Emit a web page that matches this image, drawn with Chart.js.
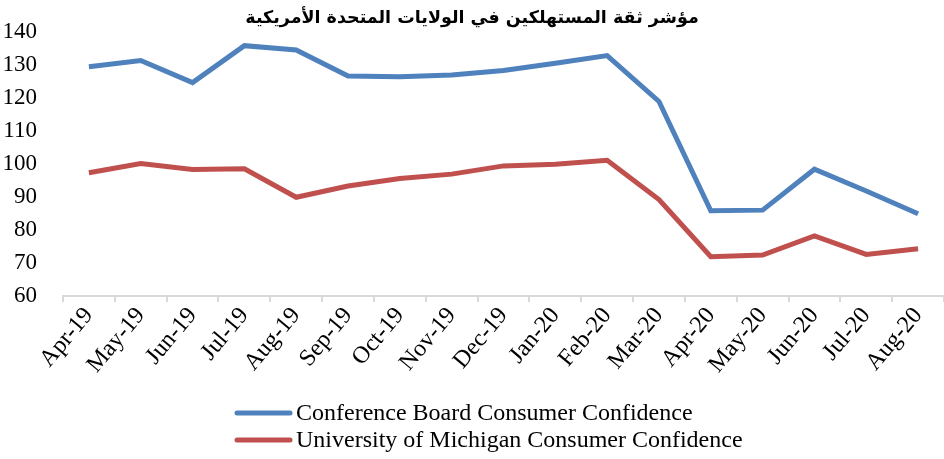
<!DOCTYPE html>
<html>
<head>
<meta charset="utf-8">
<script src="https://cdn.jsdelivr.net/npm/chart.js@4/dist/chart.umd.min.js"></script>
<style>
html, body { margin: 0; padding: 0; background: #fff; }
#wrap { width: 944px; height: 459px; position: relative; }
</style>
</head>
<body>
<div id="wrap"><canvas id="chart"></canvas></div>
<script>
// chart data
const chartTitle = 'مؤشر ثقة المستهلكين في الولايات المتحدة الأمريكية';
const months = ['Apr-19', 'May-19', 'Jun-19', 'Jul-19', 'Aug-19', 'Sep-19', 'Oct-19', 'Nov-19', 'Dec-19',
    'Jan-20', 'Feb-20', 'Mar-20', 'Apr-20', 'May-20', 'Jun-20', 'Jul-20', 'Aug-20'];
const conferenceBoard = [129.4, 131.3, 124.6, 135.8, 134.5, 126.6, 126.4, 126.9, 128.3, 130.5, 132.8, 118.9, 85.8, 86.0, 98.4, 91.8, 84.9];
const michigan = [97.3, 100.1, 98.3, 98.5, 89.9, 93.3, 95.6, 96.9, 99.4, 99.9, 101.1, 89.2, 71.9, 72.4, 78.2, 72.6, 74.3];
const seriesNames = ['Conference Board Consumer Confidence', 'University of Michigan Consumer Confidence'];
const seriesColors = ['#4f81bd', '#c0504d'];

const serif = '"Liberation Serif", "Times New Roman", serif';

// legend drawn as two left-aligned rows under the axis labels
const bottomLegend = {
    id: 'bottomLegend',
    afterDraw(chart) {
        const ctx = chart.ctx;
        const x0 = 237;
        const top = chart.height - 46;
        ctx.save();
        ctx.font = '24px ' + serif;
        ctx.textBaseline = 'middle';
        ctx.textAlign = 'left';
        chart.data.datasets.forEach((ds, i) => {
            const y = top + i * 27;
            ctx.strokeStyle = ds.borderColor;
            ctx.lineWidth = 5;
            ctx.lineCap = 'round';
            ctx.beginPath();
            ctx.moveTo(x0, y);
            ctx.lineTo(x0 + 53, y);
            ctx.stroke();
            ctx.fillStyle = '#000';
            ctx.fillText(ds.label, x0 + 59, y + 1);
        });
        ctx.restore();
    }
};

new Chart(document.getElementById('chart'), {
    type: 'line',
    data: {
        labels: months,
        datasets: [conferenceBoard, michigan].map((values, i) => ({
            label: seriesNames[i],
            data: values,
            borderColor: seriesColors[i],
            backgroundColor: seriesColors[i],
            borderWidth: 5,
            pointRadius: 0,
            tension: 0,
            fill: false
        }))
    },
    options: {
        responsive: true,
        maintainAspectRatio: false,
        animation: false,
        layout: { padding: 0 },
        plugins: {
            legend: { display: false },
            tooltip: { enabled: false },
            title: {
                display: true,
                text: chartTitle,
                color: '#000',
                font: { family: '"DejaVu Sans", sans-serif', size: 17.5, weight: 'bold' },
                padding: { top: 6, bottom: 3 }
            }
        },
        scales: {
            x: {
                offset: true,
                grid: { offset: true, drawOnChartArea: false, tickLength: 6, color: '#d9d9d9', lineWidth: 2 },
                border: { color: '#d9d9d9', width: 2 },
                ticks: {
                    color: '#000',
                    maxRotation: 50,
                    minRotation: 50,
                    padding: 0,
                    font: { family: serif, size: 24 }
                },
                afterFit(scale) {
                    // room for rotated labels plus the legend rows
                    scale.height = 163;
                    scale.paddingLeft = 0;
                    scale.paddingRight = 0;
                }
            },
            y: {
                min: 60,
                max: 140,
                grid: { display: false },
                border: { display: false },
                ticks: {
                    stepSize: 10,
                    color: '#000',
                    padding: 18,
                    font: { family: serif, size: 23 }
                },
                afterFit(scale) {
                    scale.width = 63;
                }
            }
        }
    },
    plugins: [bottomLegend]
});
</script>
</body>
</html>
